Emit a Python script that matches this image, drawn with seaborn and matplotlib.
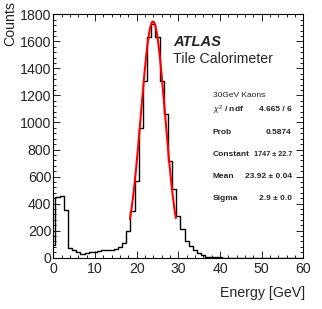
import numpy as np
import pandas as pd
import matplotlib
matplotlib.use("Agg")
import matplotlib.pyplot as plt
import seaborn as sns
from matplotlib.ticker import MultipleLocator

# --- histogram: 1 GeV bins centred on integer energies ---
bin_centers = list(range(0, 61))
counts = [95, 450, 460, 355, 75, 57, 44, 30, 38, 40,
          44, 50, 55, 60, 57, 68, 82, 112, 195, 345,
          567, 962, 1308, 1629, 1728, 1629, 1308, 1065, 718, 506,
          307, 209, 122, 85, 56, 36, 19, 8, 5, 3,
          2, 1, 1, 0, 0, 0, 0, 0, 0, 0,
          0, 0, 0, 0, 0, 0, 0, 0, 0, 0, 0]

# --- gaussian fit result (from stats box) ---
fit_const = 1747
fit_mean = 23.92
fit_sigma = 2.9
fit_range = (18.4, 29.4)

stat_title = "30GeV Kaons"
stat_labels = [r"$\chi^2$ / ndf", "Prob", "Constant", "Mean", "Sigma"]
stat_values = ["4.665 / 6", "0.5874", "1747 ± 22.7",
               "23.92 ± 0.04", "2.9 ± 0.0"]
# ROOT squeezes the long Constant entry, so its value is set a bit smaller
stat_value_sizes = [6, 6, 5.2, 6, 6]

sns.set_style("ticks")
plt.rcParams["font.family"] = ["Liberation Sans", "DejaVu Sans"]
plt.rcParams["mathtext.fontset"] = "custom"
plt.rcParams["mathtext.rm"] = "Liberation Sans"
plt.rcParams["mathtext.it"] = "Liberation Sans:italic"
plt.rcParams["mathtext.bf"] = "Liberation Sans:bold"

fig = plt.figure(figsize=(3.22, 3.09), dpi=100)
ax = fig.add_axes([0.1655, 0.166, 0.7765, 0.7877])

df = pd.DataFrame({"energy": bin_centers, "counts": counts})
sns.histplot(data=df, x="energy", weights="counts", binwidth=1,
             binrange=(-0.5, 60.5), element="step", fill=False,
             color="black", linewidth=1.0, ax=ax)

xf = np.linspace(fit_range[0], fit_range[1], 200)
yf = fit_const * np.exp(-0.5 * ((xf - fit_mean) / fit_sigma) ** 2)
sns.lineplot(x=xf, y=yf, color="red", linewidth=1.5, ax=ax)

ax.set_xlim(0, 60)
ax.set_ylim(0, 1800)
ax.xaxis.set_major_locator(MultipleLocator(10))
ax.xaxis.set_minor_locator(MultipleLocator(2))
ax.yaxis.set_major_locator(MultipleLocator(200))
ax.yaxis.set_minor_locator(MultipleLocator(40))
ax.tick_params(which="both", direction="in", top=True, right=True,
               labelsize=10.2, width=0.6, color="black")
ax.tick_params(which="major", length=5)
ax.tick_params(which="minor", length=2.5)
ax.tick_params(axis="x", pad=3)
ax.tick_params(axis="y", pad=1.5)
for s in ax.spines.values():
    s.set_linewidth(0.8)
    s.set_color("black")

ax.set_xlabel("Energy [GeV]", fontsize=10.2, loc="right")
ax.xaxis.set_label_coords(1.007, -0.115)
ax.set_ylabel("Counts", fontsize=10.2, loc="top")
ax.yaxis.set_label_coords(-0.145, 1.055)

# ATLAS label
ax.text(0.478, 0.870, "ATLAS", transform=ax.transAxes, fontsize=10.6,
        fontweight="bold", fontstyle="italic", va="baseline")
ax.text(0.478, 0.801, "Tile Calorimeter", transform=ax.transAxes,
        fontsize=10.2, va="baseline")

# stats box (no border)
ax.text(0.638, 0.668, stat_title, transform=ax.transAxes, fontsize=6,
        va="center", color="#222222")
rows_y = [0.607, 0.514, 0.422, 0.333, 0.244]
for lab, val, size, yy in zip(stat_labels, stat_values, stat_value_sizes, rows_y):
    ax.text(0.638, yy, lab, transform=ax.transAxes, fontsize=6,
            fontweight="bold", va="center")
    ax.text(0.954, yy, val, transform=ax.transAxes, fontsize=size,
            fontweight="bold", va="center", ha="right")

fig.savefig("out.png", dpi=100)
